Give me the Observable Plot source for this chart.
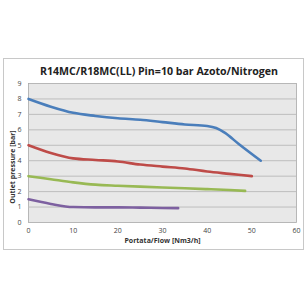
<!DOCTYPE html>
<html>
<head>
<meta charset="utf-8">
<script src="https://cdn.jsdelivr.net/npm/d3@7"></script>
<script src="https://cdn.jsdelivr.net/npm/@observablehq/plot@0.6"></script>
<style>
  body { margin: 0; background: #fff; }
  #wrap { position: relative; width: 308px; height: 308px; }
  #box { position: absolute; left: 3px; top: 58px; width: 301px; height: 192px; border: 1px solid #c8c8c8; box-sizing: border-box; }
  #title { position: absolute; left: 0; width: 318px; top: 64px; text-align: center; font-weight: bold; font-size: 10.6px; color: #222; font-family: "Open Sans", sans-serif; }
  #chart { position: absolute; left: 0; top: 0; }
</style>
</head>
<body>
<div id="wrap">
  <div id="box"></div>
  <div id="chart"></div>
  <div id="title">R14MC/R18MC(LL) Pin=10 bar Azoto/Nitrogen</div>
</div>
<script>
const xTicks = [0, 10, 20, 30, 40, 50, 60];
const yTicks = [0, 1, 2, 3, 4, 5, 6, 7, 8, 9];

const blueX = [0, 5, 10, 15, 20, 25, 30, 35, 40, 42, 44, 47, 52];
const blueY = [8, 7.5, 7.1, 6.9, 6.75, 6.65, 6.5, 6.35, 6.25, 6.12, 5.8, 5.1, 4.0];
const redX = [0, 5, 10, 15, 20, 25, 30, 35, 40, 45, 50];
const redY = [5, 4.5, 4.15, 4.05, 3.95, 3.75, 3.62, 3.5, 3.3, 3.15, 3.0];
const greenX = [0, 5, 10, 15, 20, 25, 30, 35, 40, 45, 48.5];
const greenY = [3, 2.8, 2.6, 2.45, 2.38, 2.32, 2.27, 2.22, 2.16, 2.1, 2.05];
const purpleX = [0, 5, 10, 15, 20, 25, 30, 33.5];
const purpleY = [1.5, 1.2, 1.0, 0.98, 0.98, 0.96, 0.94, 0.93];

const series = [
  {name: "blue", xs: blueX, ys: blueY, color: "#4a7ebb"},
  {name: "red", xs: redX, ys: redY, color: "#be4b48"},
  {name: "green", xs: greenX, ys: greenY, color: "#98b954"},
  {name: "purple", xs: purpleX, ys: purpleY, color: "#7d60a0"}
];

const marks = [
  Plot.frame({fill: "#e8e8e8", stroke: "#a8a8a8", strokeWidth: 0.8}),
  Plot.ruleY(yTicks.slice(1, -1), {stroke: "#bdbdbd", strokeWidth: 1}),
  ...series.map(s => Plot.line(s.xs.map((x, i) => ({x, y: s.ys[i]})), {
    x: "x", y: "y", stroke: s.color, strokeWidth: 2.6, curve: "monotone-x"
  }))
];

const chart = Plot.plot({
  width: 308, height: 308,
  marginLeft: 28, marginRight: 12, marginTop: 83, marginBottom: 86,
  style: {fontFamily: "'Open Sans', sans-serif", fontSize: "7px", color: "#444", background: "transparent"},
  x: {domain: [0, 60], ticks: xTicks, tickSize: 0, tickPadding: 6, label: "Portata/Flow [Nm3/h]", labelAnchor: "center", labelArrow: "none", labelOffset: 20},
  y: {domain: [0, 9], ticks: yTicks, tickSize: 0, tickPadding: 7, label: "Outlet pressure [bar]", labelAnchor: "center", labelArrow: "none", labelOffset: 18},
  marks
});
chart.querySelectorAll("g[aria-label='x-axis label'] text, g[aria-label='y-axis label'] text").forEach(t => {
  t.setAttribute("font-weight", "bold");
  t.setAttribute("fill", "#333");
});
const yl = chart.querySelector("g[aria-label='y-axis label']");
if (yl) yl.setAttribute("transform", (yl.getAttribute("transform") || "") + " translate(0,14)");
document.getElementById("chart").appendChild(chart);
</script>
</body>
</html>
